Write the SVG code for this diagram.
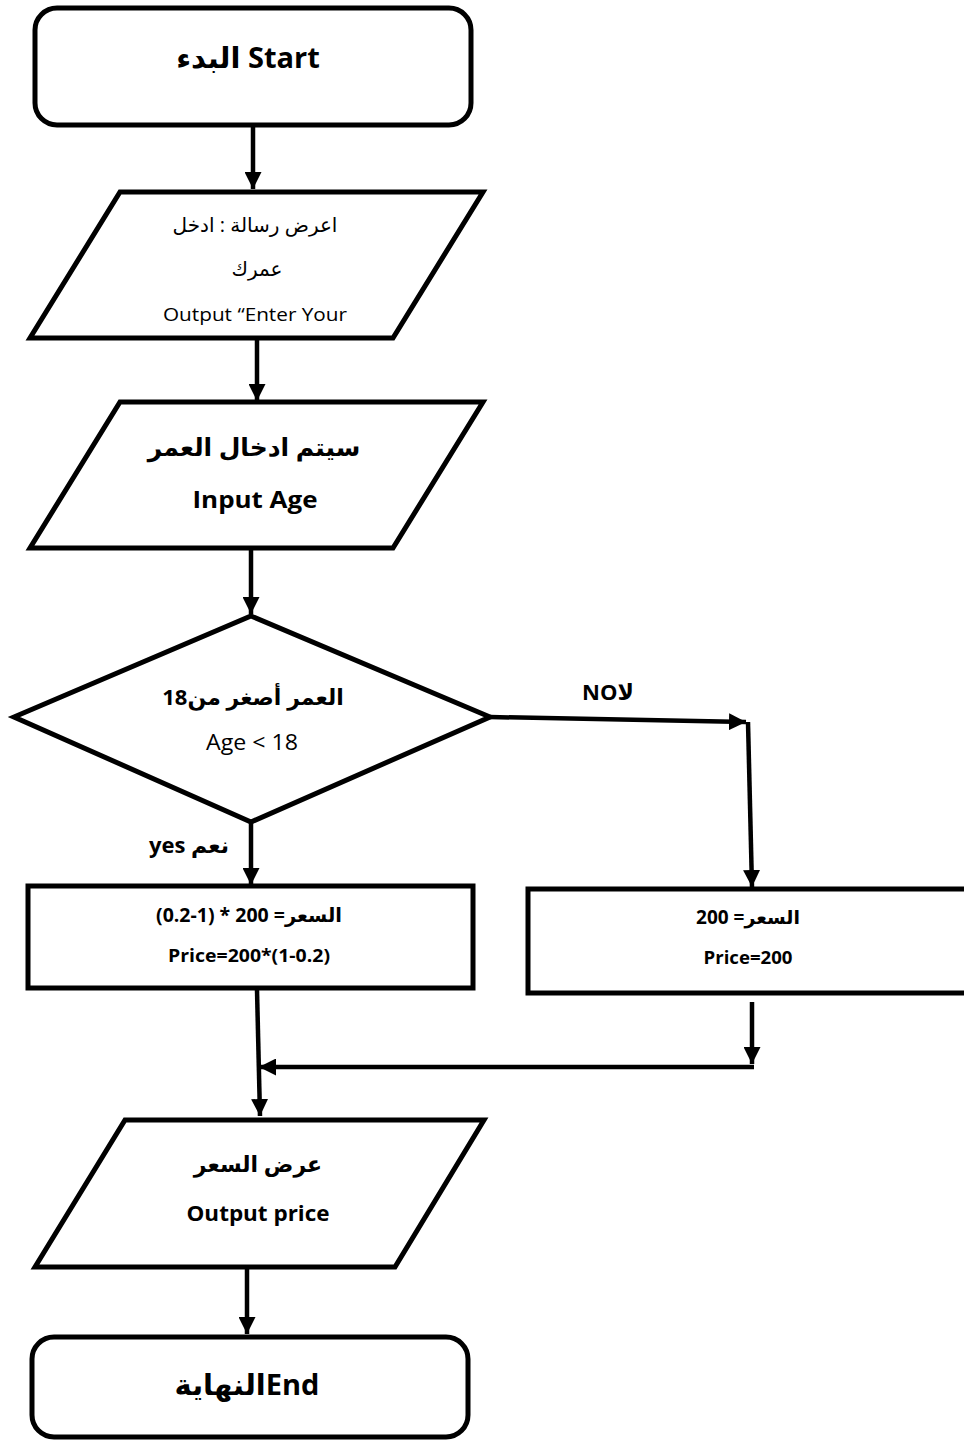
<svg xmlns="http://www.w3.org/2000/svg" width="964" height="1441" viewBox="0 0 964 1441">
<style>
.shape{fill:#fff;stroke:#000;stroke-width:5;stroke-linejoin:miter}
.conn{fill:none;stroke:#000;stroke-width:4.5}
text{font-family:"Open Sans","DejaVu Sans",sans-serif;fill:#000;text-anchor:middle}
.b{font-weight:bold}
</style>
<defs>
<marker id="ah" viewBox="0 0 10 10" refX="10" refY="5" markerWidth="17" markerHeight="17" markerUnits="userSpaceOnUse" orient="auto">
<path d="M0,0 L10,5 L0,10 Z" fill="#000"/>
</marker>
</defs>
<rect width="964" height="1441" fill="#fff"/>
<g id="connectors">
<path class="conn" d="M253,125 L253,189" marker-end="url(#ah)"/>
<path class="conn" d="M257,340 L257,401" marker-end="url(#ah)"/>
<path class="conn" d="M251,550 L251,614" marker-end="url(#ah)"/>
<path class="conn" d="M490,717 L746,722" marker-end="url(#ah)"/>
<path class="conn" d="M748,722 L752,887" marker-end="url(#ah)"/>
<path class="conn" d="M251,822 L251,885" marker-end="url(#ah)"/>
<path class="conn" d="M752,1002 L752,1064" marker-end="url(#ah)"/>
<path class="conn" d="M754,1067 L259,1067" marker-end="url(#ah)"/>
<path class="conn" d="M257,990 L260,1116" marker-end="url(#ah)"/>
<path class="conn" d="M247,1268 L247,1334" marker-end="url(#ah)"/>
</g>
<g id="start">
<rect class="shape" x="35" y="8" width="436" height="117" rx="22"/>
<text x="248" y="68" font-size="29" class="b" direction="ltr">البدء Start</text>
</g>
<g id="output-msg">
<polygon class="shape" points="120,192 483,192 393,338 30,338"/>
<text x="255" y="232" font-size="20" direction="rtl">اعرض رسالة : ادخل</text>
<text x="257" y="276" font-size="20" direction="rtl">عمرك</text>
<text x="255" y="321" font-size="18" textLength="184" lengthAdjust="spacingAndGlyphs">Output “Enter Your</text>
</g>
<g id="input-age">
<polygon class="shape" points="120,402 483,402 393,548 30,548"/>
<text x="254" y="456" font-size="25" class="b" direction="rtl">سيتم ادخال العمر</text>
<text x="255" y="508" font-size="24" class="b" textLength="125" lengthAdjust="spacingAndGlyphs">Input Age</text>
</g>
<g id="decision">
<polygon class="shape" points="251,616 490,717 251,822 14,717"/>
<text x="253" y="705" font-size="22" class="b" direction="rtl">العمر أصغر من18</text>
<text x="252" y="750" font-size="22" textLength="92" lengthAdjust="spacingAndGlyphs">Age &lt; 18</text>
</g>
<g id="label-no">
<text x="608" y="700" font-size="22" class="b" direction="ltr">NOلا</text>
</g>
<g id="label-yes">
<text x="189" y="853" font-size="22" class="b" direction="ltr">yes  نعم</text>
</g>
<g id="discount">
<rect class="shape" x="28" y="886" width="445" height="102"/>
<text x="249" y="922" font-size="19.5" class="b" direction="ltr">(0.2-1) * 200 =السعر</text>
<text x="249" y="962" font-size="17" class="b" textLength="162" lengthAdjust="spacingAndGlyphs">Price=200*(1-0.2)</text>
</g>
<g id="full-price">
<rect class="shape" x="528" y="889" width="450" height="104"/>
<text x="748" y="924" font-size="19" class="b" direction="ltr">200 =السعر</text>
<text x="748" y="964" font-size="17" class="b" textLength="89" lengthAdjust="spacingAndGlyphs">Price=200</text>
</g>
<g id="output-price">
<polygon class="shape" points="125,1120 484,1120 395,1267 35,1267"/>
<text x="258" y="1172" font-size="22" class="b" direction="rtl">عرض السعر</text>
<text x="258" y="1221" font-size="22" class="b" textLength="143" lengthAdjust="spacingAndGlyphs">Output price</text>
</g>
<g id="end">
<rect class="shape" x="32" y="1337" width="436" height="100" rx="22"/>
<text x="247" y="1395" font-size="29" class="b" direction="ltr">النهايةEnd</text>
</g>
</svg>
